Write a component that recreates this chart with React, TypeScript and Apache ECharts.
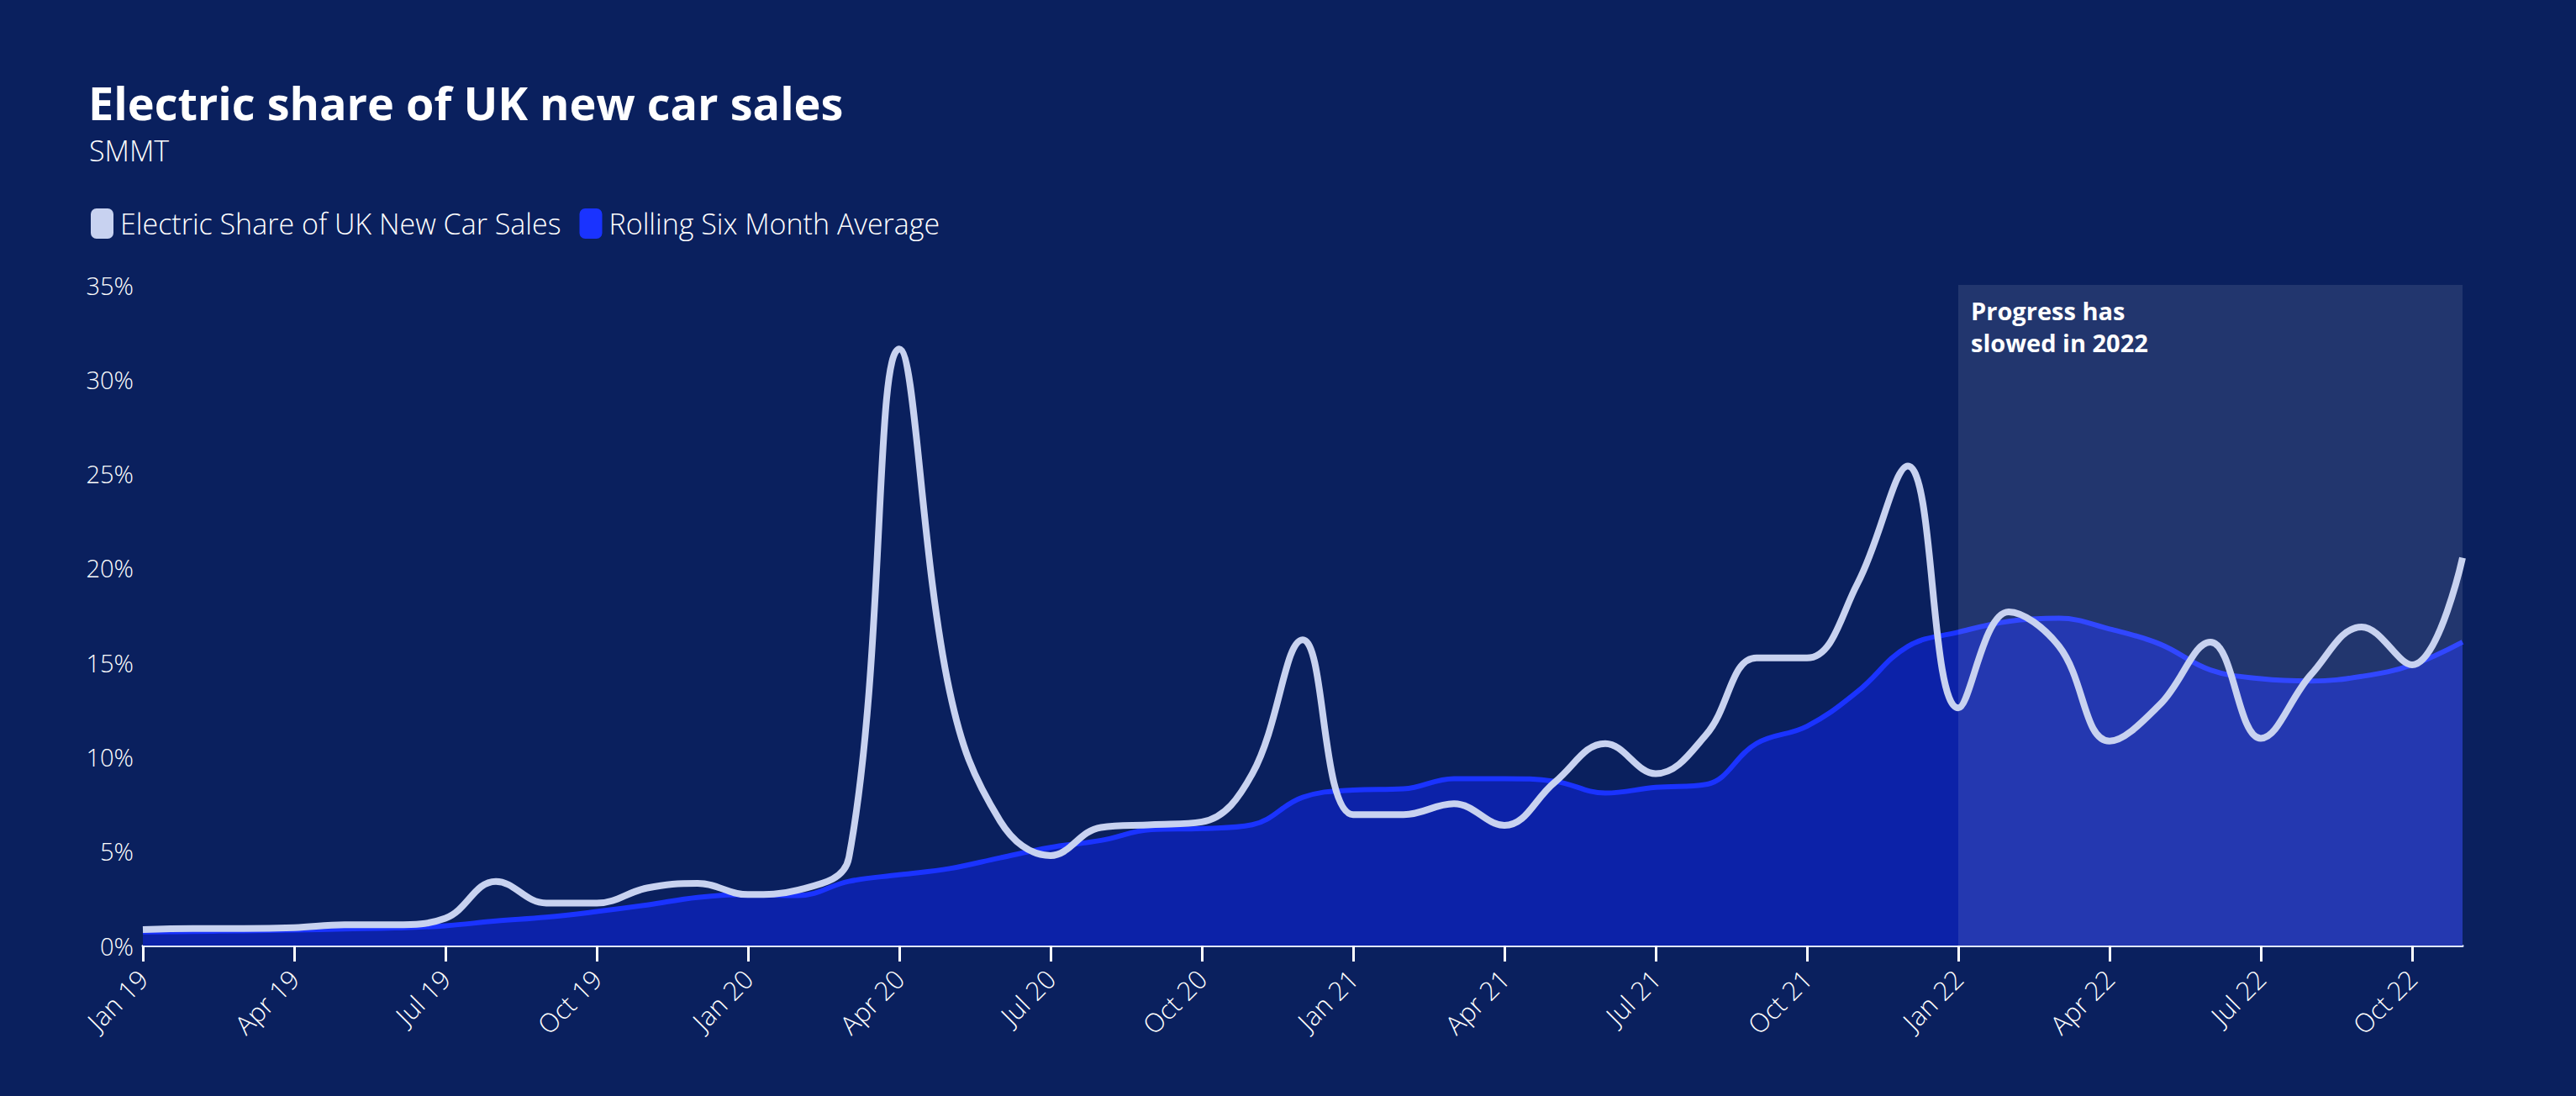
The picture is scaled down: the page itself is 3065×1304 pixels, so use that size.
import React, { useEffect, useRef } from "react";
import * as echarts from "echarts";

const months = [
  "Jan 19", "Feb 19", "Mar 19", "Apr 19", "May 19", "Jun 19", "Jul 19", "Aug 19", "Sep 19", "Oct 19", "Nov 19", "Dec 19",
  "Jan 20", "Feb 20", "Mar 20", "Apr 20", "May 20", "Jun 20", "Jul 20", "Aug 20", "Sep 20", "Oct 20", "Nov 20", "Dec 20",
  "Jan 21", "Feb 21", "Mar 21", "Apr 21", "May 21", "Jun 21", "Jul 21", "Aug 21", "Sep 21", "Oct 21", "Nov 21", "Dec 21",
  "Jan 22", "Feb 22", "Mar 22", "Apr 22", "May 22", "Jun 22", "Jul 22", "Aug 22", "Sep 22", "Oct 22", "Nov 22",
];

const electricShare = [
  0.85, 0.9, 0.9, 0.95, 1.1, 1.1, 1.45, 3.4, 2.25, 2.25, 3.05, 3.3,
  2.7, 2.95, 4.65, 31.6, 13.45, 6.6, 4.77, 6.26, 6.4, 6.55, 9.1, 16.2,
  6.94, 6.94, 7.51, 6.37, 8.66, 10.7, 9.11, 11.17, 15.24, 15.24, 19.17, 25.4,
  12.59, 17.68, 15.85, 10.83, 12.77, 16.08, 10.98, 14.37, 16.88, 14.87, 20.54,
];

const rollingAverage = [
  0.72, 0.75, 0.78, 0.82, 0.88, 0.93, 1.05, 1.3, 1.5, 1.8, 2.15, 2.55,
  2.7, 2.65, 3.4, 3.75, 4.08, 4.65, 5.2, 5.57, 6.14, 6.2, 6.4, 7.85,
  8.24, 8.3, 8.84, 8.84, 8.7, 8.08, 8.38, 8.54, 10.71, 11.62, 13.45, 15.85,
  16.6, 17.18, 17.34, 16.77, 15.97, 14.6, 14.14, 14.02, 14.26, 14.87, 16.08,
];

const yTicks = { min: 0, max: 35, interval: 5 };
const seriesNames = ["Electric Share of UK New Car Sales", "Rolling Six Month Average"];
const highlightStart = "Jan 22";
const highlightEnd = "Nov 22";
const highlightText = "Progress has\nslowed in 2022";

const FONT = "Open Sans";

export default function App() {
  const ref = useRef<HTMLDivElement>(null);
  useEffect(() => {
    if (!ref.current) return;
    const chart = echarts.init(ref.current, null, { renderer: "svg" });
    chart.setOption({
      animation: false,
      backgroundColor: "#0a205e",
      textStyle: { fontFamily: FONT },
      title: [
        {
          text: "Electric share of UK new car sales",
          left: 100,
          top: 90,
          textStyle: { color: "#ffffff", fontSize: 54, fontWeight: "bold", fontFamily: FONT },
        },
        {
          text: "SMMT",
          left: 101,
          top: 157,
          textStyle: { color: "#ffffff", fontSize: 34, fontWeight: 300, fontFamily: FONT },
        },
      ],
      legend: {
        left: 103,
        top: 243,
        icon: "roundRect",
        itemWidth: 27,
        itemHeight: 36,
        itemGap: 22,
        data: seriesNames,
        textStyle: { color: "#ffffff", fontSize: 34, fontWeight: 300, fontFamily: FONT, padding: [0, 0, 0, 3] },
      },
      grid: { left: 170, right: 135, top: 339, bottom: 179 },
      xAxis: {
        type: "category",
        data: months,
        boundaryGap: false,
        axisLine: { lineStyle: { color: "#dfe6ff", width: 3 } },
        axisTick: { interval: 2, length: 19, lineStyle: { color: "#ffffff", width: 3 } },
        axisLabel: {
          interval: 2,
          rotate: 45,
          margin: 34,
          color: "#ffffff",
          fontSize: 31,
          fontWeight: 300,
          fontFamily: FONT,
        },
        splitLine: { show: false },
      },
      yAxis: {
        type: "value",
        min: yTicks.min,
        max: yTicks.max,
        interval: yTicks.interval,
        axisLine: { show: false },
        axisTick: { show: false },
        splitLine: { show: false },
        axisLabel: {
          formatter: "{value}%",
          margin: 11,
          color: "#ffffff",
          fontSize: 29,
          fontWeight: 300,
          fontFamily: FONT,
        },
      },
      series: [
        {
          name: seriesNames[1],
          type: "line",
          data: rollingAverage,
          smooth: 0.4,
          symbol: "none",
          z: 2,
          itemStyle: { color: "#1a33ff" },
          lineStyle: { color: "#1a33ff", width: 6 },
          areaStyle: { color: "#0c22a8", opacity: 1 },
        },
        {
          name: seriesNames[0],
          type: "line",
          data: electricShare,
          smooth: 0.4,
          symbol: "none",
          z: 4,
          itemStyle: { color: "#c8d2f0" },
          lineStyle: { color: "#c8d2f0", width: 8 },
          markArea: {
            silent: true,
            z: 3,
            itemStyle: { color: "rgba(255,255,255,0.1)" },
            label: {
              show: true,
              position: "insideTopLeft",
              distance: 11,
              offset: [4, 0],
              formatter: highlightText,
              color: "#ffffff",
              fontSize: 29,
              fontWeight: "bold",
              lineHeight: 38,
              fontFamily: FONT,
            },
            data: [[{ xAxis: highlightStart, yAxis: yTicks.max }, { xAxis: highlightEnd, yAxis: yTicks.min }]],
          },
        },
      ],
    });
    return () => chart.dispose();
  }, []);
  return <div ref={ref} style={{ position: "fixed", left: 0, top: 0, width: 3065, height: 1304 }} />;
}
